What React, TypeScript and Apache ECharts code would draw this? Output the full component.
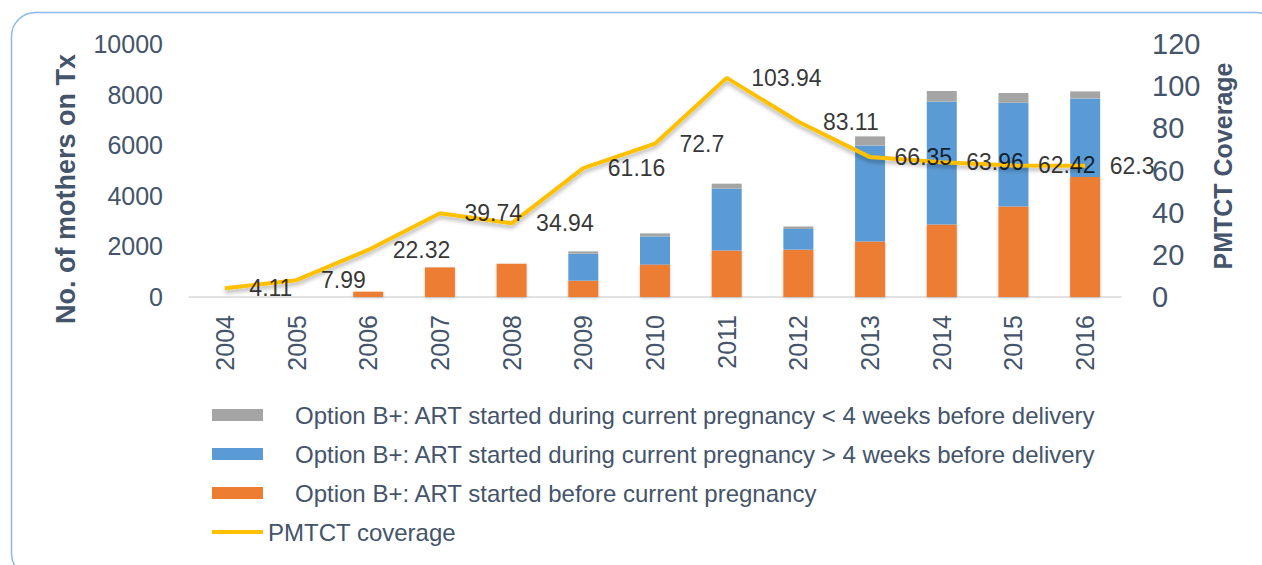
import React, { useEffect, useRef } from "react";
import * as echarts from "echarts";

const years = ["2004","2005","2006","2007","2008","2009","2010","2011","2012","2013","2014","2015","2016"];
const beforePregnancy = [0, 0, 210, 1170, 1316, 645, 1280, 1842, 1870, 2198, 2870, 3581, 4743];
const duringOver4 = [0, 0, 0, 0, 0, 1066, 1115, 2438, 818, 3794, 4850, 4100, 3107];
const duringUnder4 = [0, 0, 0, 0, 0, 92, 120, 200, 100, 356, 422, 383, 277];
const coverage = [4.11, 7.99, 22.32, 39.74, 34.94, 61.16, 72.7, 103.94, 83.11, 66.35, 63.96, 62.42, 62.3];

const nameUnder4 = "Option B+: ART started during current pregnancy < 4 weeks before delivery";
const nameOver4 = "Option B+: ART started during current pregnancy > 4 weeks before delivery";
const nameBefore = "Option B+: ART started before current pregnancy";
const nameCoverage = "PMTCT coverage";

const slate = "#44546A";
const font = "'Liberation Sans', Arial, sans-serif";

export default function App() {
  const ref = useRef<HTMLDivElement>(null);
  useEffect(() => {
    const chart = echarts.init(ref.current!, null, { renderer: "svg" });
    chart.setOption({
      animation: false,
      textStyle: { fontFamily: font },
      grid: { left: 189, right: 141, top: 44, bottom: 268 },
      legend: [
        {
          orient: "vertical",
          left: 212,
          top: 403,
          padding: 0,
          itemWidth: 51,
          itemHeight: 12,
          itemGap: 15,
          icon: "rect",
          data: [nameUnder4, nameOver4, nameBefore],
          textStyle: { fontSize: 24, color: slate, fontFamily: font, padding: [0, 0, 0, 27] },
        },
        {
          orient: "vertical",
          left: 212,
          top: 520,
          padding: 0,
          itemWidth: 51,
          itemHeight: 4,
          icon: "rect",
          data: [nameCoverage],
          textStyle: { fontSize: 24, color: slate, fontFamily: font },
        },
      ],
      xAxis: {
        type: "category",
        data: years,
        axisLine: { lineStyle: { color: "#D9D9D9", width: 1.5 } },
        axisTick: { show: false },
        axisLabel: { rotate: 90, fontSize: 25, color: slate, margin: 18, fontFamily: font },
      },
      yAxis: [
        {
          type: "value",
          min: 0,
          max: 10000,
          interval: 2000,
          splitLine: { show: false },
          axisLine: { show: false },
          axisTick: { show: false },
          axisLabel: { fontSize: 25, color: slate, margin: 26, fontFamily: font, formatter: (v: number) => String(v) },
        },
        {
          type: "value",
          min: 0,
          max: 120,
          interval: 20,
          position: "right",
          splitLine: { show: false },
          axisLine: { show: false },
          axisTick: { show: false },
          axisLabel: { fontSize: 29, color: slate, margin: 31, fontFamily: font },
        },
      ],
      series: [
        {
          name: nameBefore,
          type: "bar",
          stack: "total",
          barWidth: 30,
          data: beforePregnancy,
          itemStyle: { color: "#ED7D31", shadowColor: "rgba(0,0,0,0.2)", shadowBlur: 3, shadowOffsetY: 1 },
        },
        {
          name: nameOver4,
          type: "bar",
          stack: "total",
          barWidth: 30,
          data: duringOver4,
          itemStyle: { color: "#5B9BD5" },
        },
        {
          name: nameUnder4,
          type: "bar",
          stack: "total",
          barWidth: 30,
          data: duringUnder4,
          itemStyle: { color: "#A5A5A5" },
        },
        {
          name: nameCoverage,
          type: "line",
          yAxisIndex: 1,
          data: coverage,
          symbol: "none",
          color: "#FFC000",
          itemStyle: { color: "#FFC000" },
          lineStyle: { color: "#FFC000", width: 4, shadowColor: "rgba(0,0,0,0.3)", shadowBlur: 4, shadowOffsetY: 3 },
          z: 5,
        },
        {
          name: "coverage-labels",
          type: "scatter",
          yAxisIndex: 1,
          data: coverage,
          symbolSize: 1,
          itemStyle: { color: "rgba(0,0,0,0)" },
          label: {
            show: true,
            position: "right",
            distance: 24,
            fontSize: 23,
            color: "#000000",
            fontFamily: font,
          },
          silent: true,
          z: 6,
        },
      ],
      graphic: [
        {
          type: "rect",
          shape: { x: 11.5, y: 12.5, width: 1268, height: 565, r: 24 },
          style: { fill: "none", stroke: "#8DB8E8", lineWidth: 1.5 },
          silent: true,
        },
        {
          type: "text",
          x: 66,
          y: 189,
          rotation: Math.PI / 2,
          style: {
            text: "No. of mothers on Tx",
            fontSize: 27,
            fontWeight: "bold",
            fill: slate,
            fontFamily: font,
            align: "center",
            verticalAlign: "middle",
          },
        },
        {
          type: "text",
          x: 1223,
          y: 166,
          rotation: Math.PI / 2,
          style: {
            text: "PMTCT Coverage",
            fontSize: 25,
            fontWeight: "bold",
            fill: slate,
            fontFamily: font,
            align: "center",
            verticalAlign: "middle",
          },
        },
      ],
    });
    return () => chart.dispose();
  }, []);
  return (
    <div
      ref={ref}
      style={{ position: "fixed", left: 0, top: 0, width: 1262, height: 565, background: "#fff" }}
    />
  );
}
